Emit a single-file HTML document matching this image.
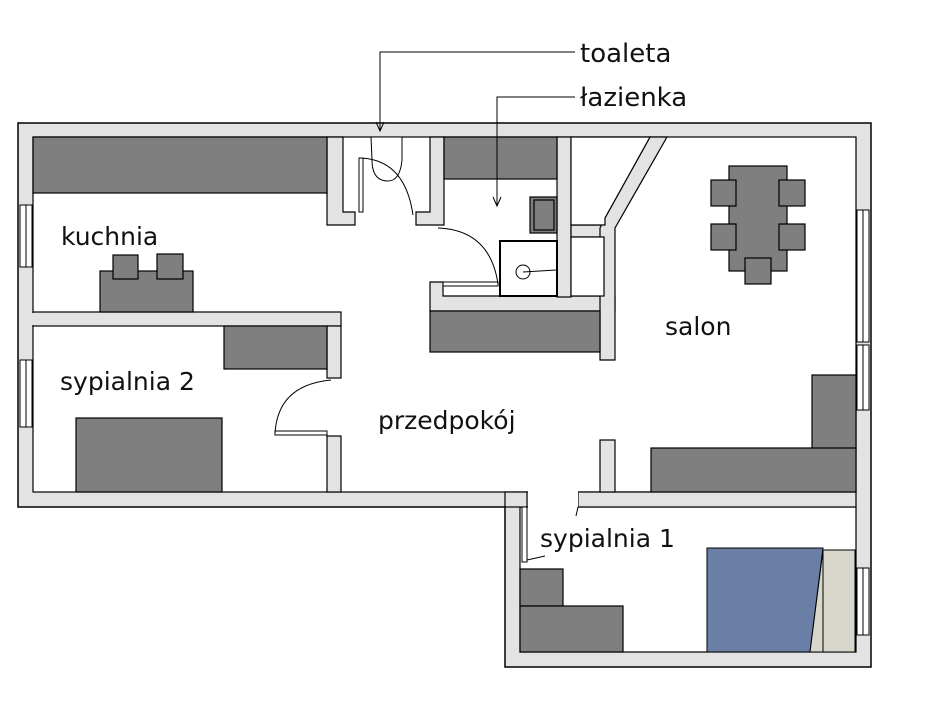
<!DOCTYPE html>
<html><head><meta charset="utf-8"><style>
html,body{margin:0;padding:0;background:#fff;}
svg{display:block;}
text{font-family:"DejaVu Sans","Liberation Sans",sans-serif;fill:#111;}
</style></head><body>
<svg width="931" height="703" viewBox="0 0 931 703" xmlns="http://www.w3.org/2000/svg">
<polygon points="18,123 871,123 871,667 505,667 505,507 18,507" fill="#e3e3e3" stroke="#000" stroke-width="1.5"/>
<rect x="33" y="137" width="823" height="355" fill="#fff" stroke="#000" stroke-width="1.2"/>
<rect x="520" y="507" width="336" height="145" fill="#fff" stroke="#000" stroke-width="1.2"/>
<g fill="#e3e3e3" stroke="#000" stroke-width="1.2">
<rect x="505" y="492" width="22" height="15"/>
<rect x="578" y="492" width="278" height="15"/>
<rect x="33" y="312" width="308" height="14"/>
<polygon points="327,137 343,137 343,212 355,212 355,225 327,225"/>
<rect x="327" y="326" width="14" height="52"/>
<rect x="327" y="436" width="14" height="56"/>
<polygon points="416,212 430,212 430,137 444,137 444,225 416,225"/>
<polygon points="430,282 443,282 443,296 615,296 615,311 430,311"/>
<rect x="557" y="137" width="14" height="160"/>
<rect x="571" y="225" width="34" height="12"/>
<polygon points="650,137 667,137 615,228 615,360 600,360 600,228 605,218"/>
<rect x="600" y="440" width="15" height="52"/>
</g>
<rect x="528" y="491" width="50" height="17" fill="#fff"/>
<rect x="19" y="313" width="15" height="12" fill="#e3e3e3"/>
<g fill="#fff" stroke="#000" stroke-width="1.2">
<polygon points="571,137 650,137 605,218 605,225 571,225"/>
<rect x="571" y="237" width="33" height="59"/>
</g>
<g fill="#fff" stroke="#000" stroke-width="1">
<rect x="20" y="205" width="12" height="62"/><line x1="26" y1="205" x2="26" y2="267"/>
<rect x="20" y="360" width="12" height="67"/><line x1="26" y1="360" x2="26" y2="427"/>
<rect x="857" y="210" width="12" height="132"/><line x1="863" y1="210" x2="863" y2="342"/>
<rect x="857" y="345" width="12" height="65"/><line x1="863" y1="345" x2="863" y2="410"/>
<rect x="857" y="568" width="12" height="67"/><line x1="863" y1="568" x2="863" y2="635"/>
</g>
<g fill="#7f7f7f" stroke="#000" stroke-width="1.2">
<rect x="33" y="137" width="294" height="56"/>
<rect x="100" y="271" width="93" height="41"/>
<rect x="113" y="255" width="25" height="24"/>
<rect x="157" y="254" width="26" height="25"/>
<rect x="224" y="326" width="103" height="43"/>
<rect x="76" y="418" width="146" height="74"/>
<rect x="444" y="137" width="113" height="42"/>
<rect x="530" y="197" width="27" height="36"/>
<rect x="534" y="200" width="20" height="30"/>
<rect x="430" y="311" width="170" height="41"/>
<rect x="729" y="166" width="58" height="105"/>
<rect x="711" y="180" width="25" height="26"/>
<rect x="779" y="180" width="26" height="26"/>
<rect x="711" y="224" width="25" height="26"/>
<rect x="779" y="224" width="26" height="26"/>
<rect x="745" y="258" width="26" height="26"/>
<rect x="812" y="375" width="44" height="74"/>
<rect x="651" y="448" width="205" height="44"/>
<rect x="520" y="569" width="43" height="37"/>
<rect x="520" y="606" width="103" height="46"/>
</g>
<polygon points="707,548 823,548 810,652 707,652" fill="#6a7fa6" stroke="#000" stroke-width="1"/>
<polygon points="823,550 855,550 855,652 810,652" fill="#d9d7cb" stroke="#000" stroke-width="1"/>
<line x1="823" y1="550" x2="823" y2="652" stroke="#000"/>
<rect x="500" y="241" width="57" height="55" fill="#fff" stroke="#000" stroke-width="2"/>
<circle cx="523" cy="272" r="7" fill="none" stroke="#000"/>
<line x1="523" y1="272" x2="556" y2="270" stroke="#000"/>
<path d="M371,137 L402,137 L402,160 Q400,181 388,181 Q372,181 372,160 Z" fill="#fff" stroke="#000"/>
<g fill="none" stroke="#000" stroke-width="1">
<rect x="359" y="158" width="4" height="54" fill="#fff"/>
<path d="M361,158 Q405,160 413,215"/>
<rect x="443" y="282" width="55" height="4" fill="#fff"/>
<path d="M498,284 Q490,230 438,228"/>
<rect x="275" y="431" width="52" height="4" fill="#fff"/>
<path d="M275,433 Q278,385 331,380"/>
<rect x="522" y="507" width="5" height="55" fill="#fff"/>
<path d="M527,560 L545,556"/>
<path d="M578,507 L576,516"/>
</g>
<g stroke="#000" stroke-width="1" fill="none">
<polyline points="575,52 380,52 380,130"/>
<polyline points="376,122 380,131 384,122"/>
<polyline points="575,97 497,97 497,205"/>
<polyline points="493,197 497,206 501,197"/>
</g>
<text x="580" y="62" font-size="26">toaleta</text>
<text x="580" y="106" font-size="26">łazienka</text>
<text x="61" y="245" font-size="25">kuchnia</text>
<text x="60" y="390" font-size="25">sypialnia 2</text>
<text x="378" y="429" font-size="25">przedpokój</text>
<text x="665" y="335" font-size="25">salon</text>
<text x="540" y="547" font-size="25">sypialnia 1</text>
</svg>
</body></html>
